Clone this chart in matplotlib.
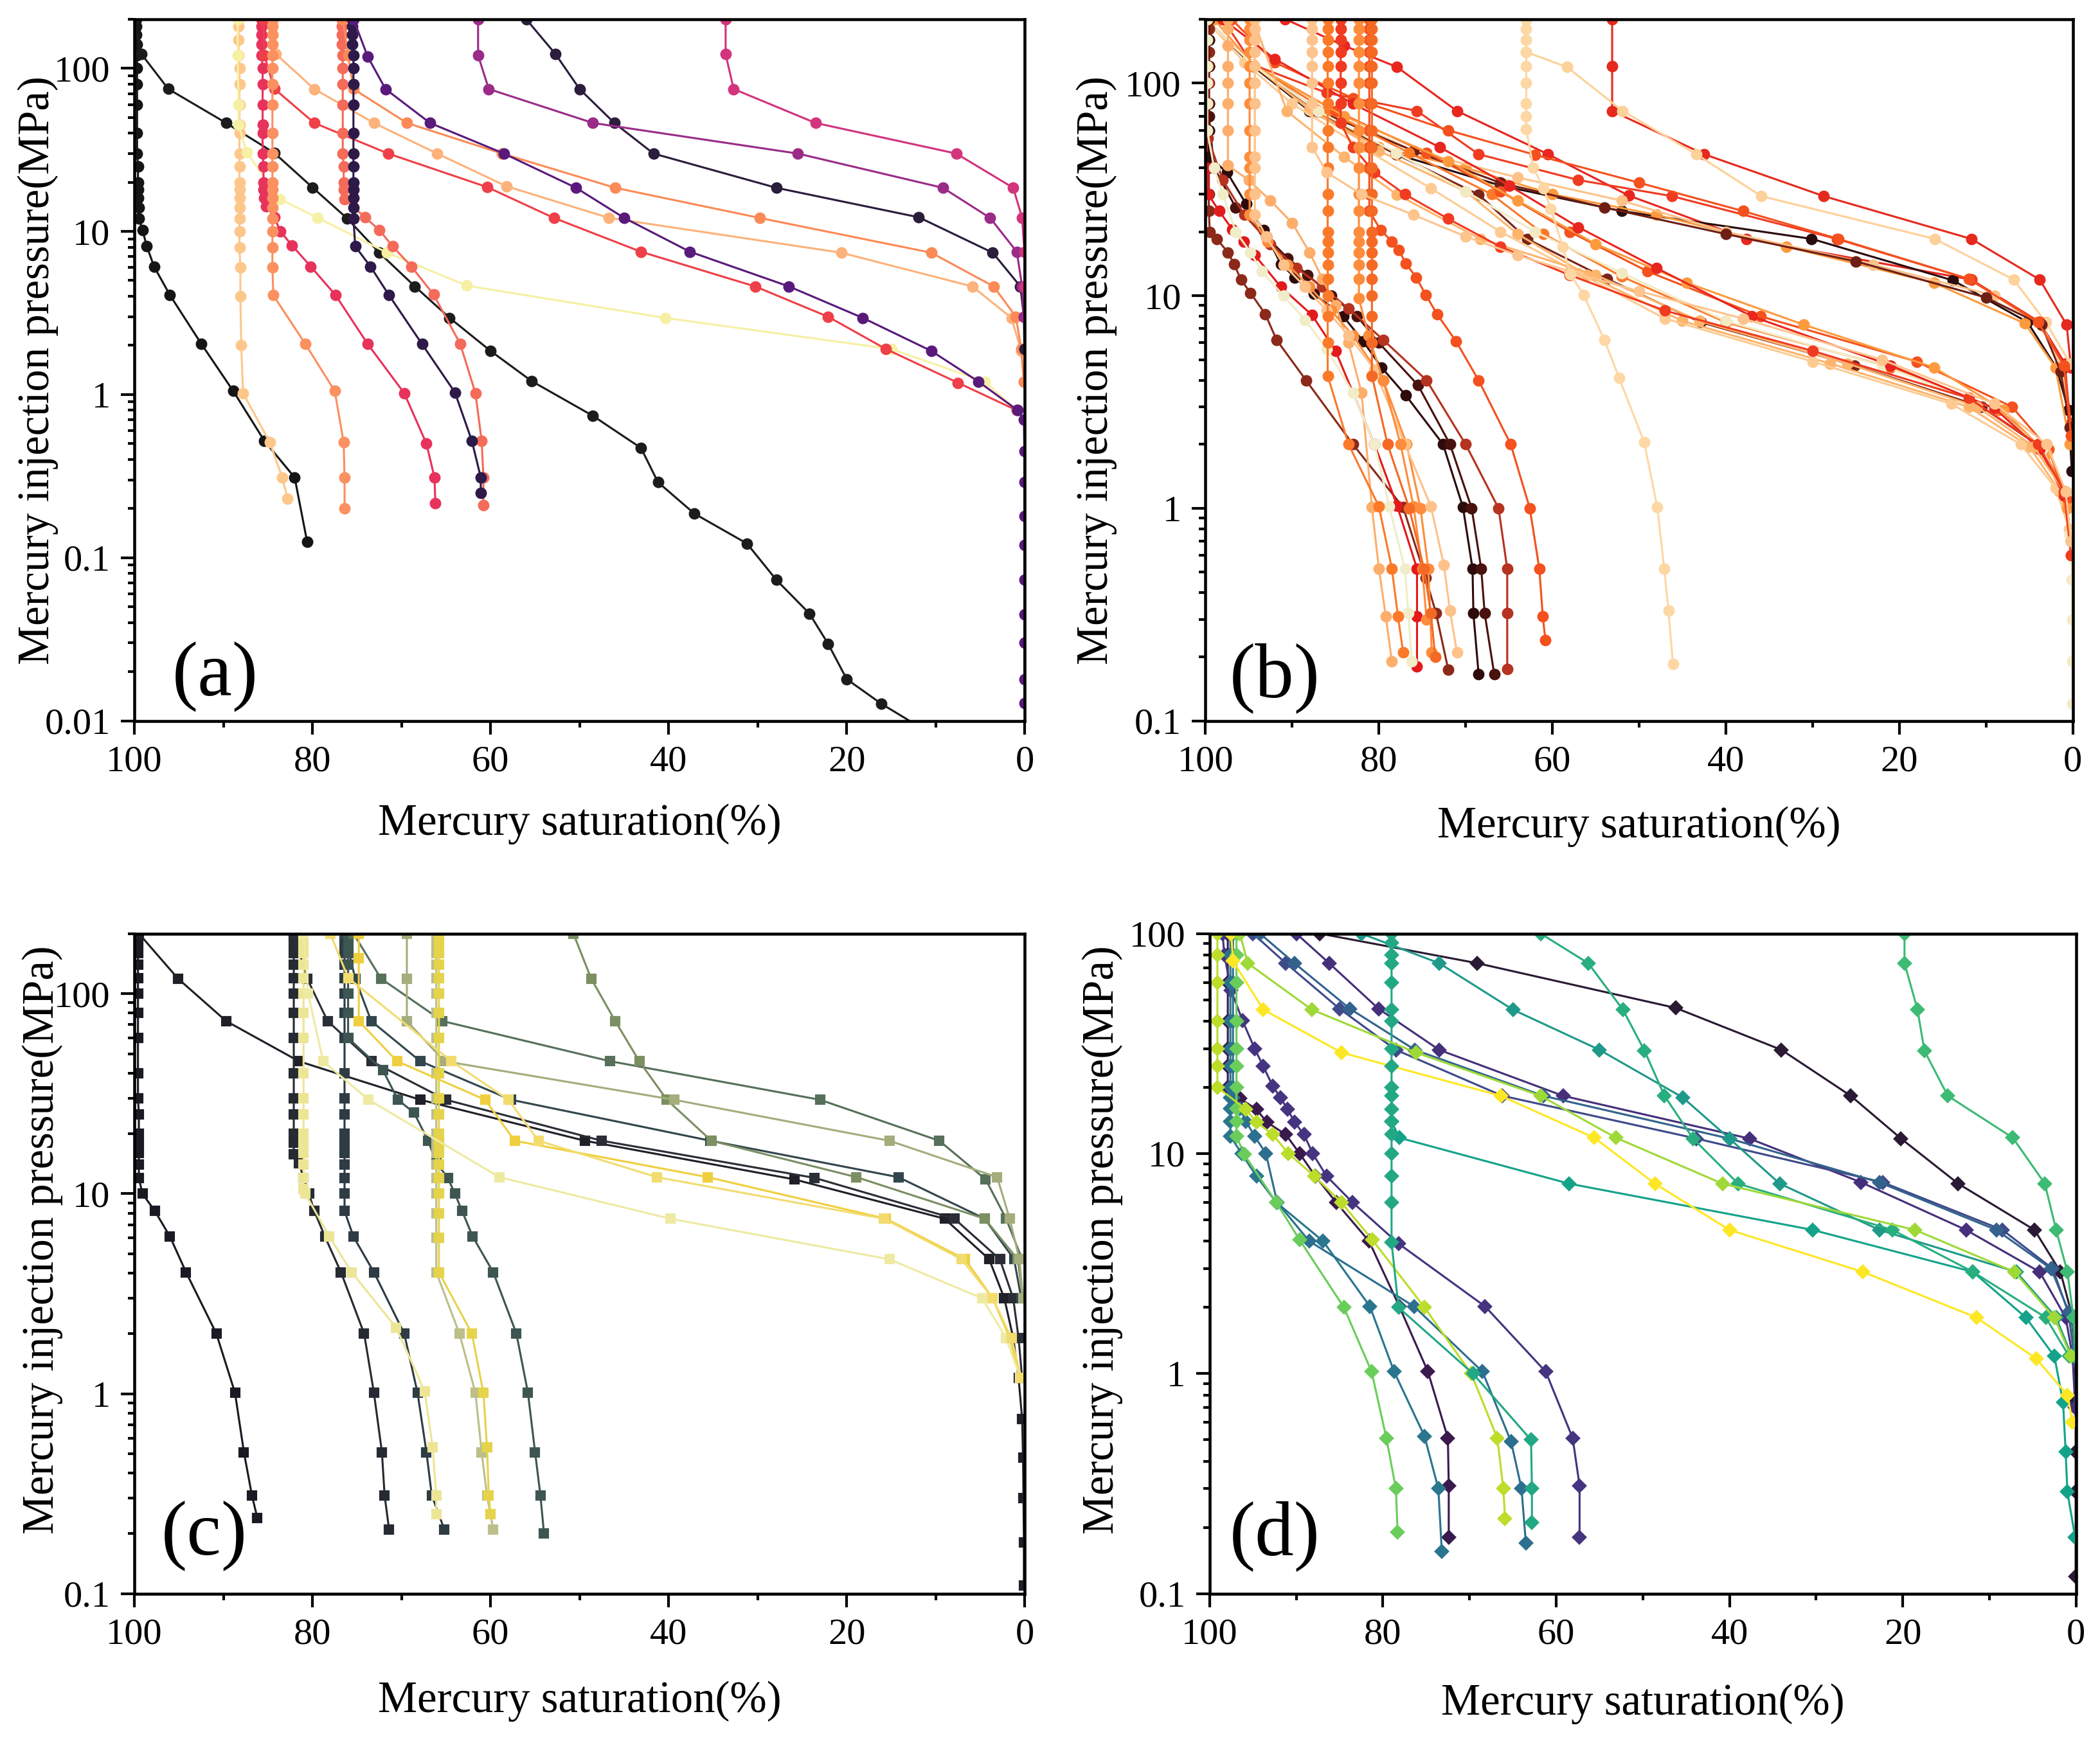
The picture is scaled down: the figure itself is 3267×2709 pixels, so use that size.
import matplotlib.pyplot as plt
from matplotlib.ticker import FixedLocator, LogLocator, FuncFormatter, NullFormatter, MultipleLocator

# ---------------- panel (a) : circles, magma-like colours ----------------
a_colors = ['#151515', '#1c1c1c', '#fdc78b', '#f6f0a4', '#e7335c', '#ee4048',
            '#fdb27b', '#fb9060', '#f46b5a', '#fc8a57', '#2d1a49', '#5a1a7c',
            '#2b1d3c', '#9a2c88', '#d2347d']
a_sat = [
    [99.8, 99.8, 99.8, 99.7, 99.7, 99.7, 99.7, 99.7, 99.7, 99.7, 99.6, 99.6, 99.6, 99.6, 99.5, 99.5,
     99.1, 98.6, 97.8, 96.0, 92.5, 88.9, 85.4, 82.0, 80.6],
    [100, 99.2, 96.2, 89.7, 84.3, 80.0, 76.1, 72.5, 68.5, 64.6, 60.0, 55.4, 48.5, 43.1, 41.2, 37.1,
     31.2, 27.9, 24.2, 22.1, 20.0, 16.1, 12.0],
    [88.3, 88.3, 88.3, 88.3, 88.2, 88.2, 88.2, 88.2, 88.2, 88.2, 88.2, 88.2, 88.2, 88.2, 88.2, 88.2,
     88.2, 88.2, 88.1, 88.1, 88.0, 87.8, 84.8, 83.4, 82.8],
    [88.4, 88.4, 88.3, 88.3, 87.4, 83.7, 79.4, 71.6, 62.7, 40.4, 15.0, 4.5, 0.9],
    [85.7, 85.7, 85.7, 85.7, 85.7, 85.6, 85.6, 85.6, 85.6, 85.6, 85.6, 85.5, 85.5, 85.5, 85.4, 85.2,
     84.3, 83.6, 82.3, 80.2, 77.4, 73.8, 69.7, 67.2, 66.3, 66.2],
    [85.5, 85.4, 84.3, 79.8, 71.5, 60.4, 52.9, 43.1, 30.3, 22.1, 15.6, 7.5, 0.9],
    [84.4, 84.1, 79.8, 73.1, 66.0, 58.2, 46.7, 20.6, 5.9, 1.5, 0.4, 0.1],
    [84.5, 84.5, 84.5, 84.5, 84.5, 84.5, 84.5, 84.5, 84.5, 84.5, 84.5, 84.5, 84.5, 84.5, 84.5, 84.5,
     84.5, 84.5, 84.5, 84.4, 80.8, 77.5, 76.5, 76.4, 76.4],
    [76.7, 76.7, 76.7, 76.7, 76.6, 76.6, 76.6, 76.6, 76.6, 76.6, 76.5, 76.5, 76.5, 76.4, 74.1, 72.5,
     71.0, 68.9, 66.4, 63.4, 61.7, 61.0, 60.8, 60.8],
    [76.6, 76.0, 75.4, 69.4, 58.7, 46.0, 29.8, 10.5, 3.5, 1.0, 0.4, 0.1],
    [75.5, 75.5, 75.5, 75.5, 75.4, 75.4, 75.4, 75.4, 75.4, 75.4, 75.4, 75.4, 75.4, 75.4, 75.4, 75.4,
     75.2, 73.5, 71.4, 67.7, 64.0, 62.1, 61.1, 61.1],
    [75.4, 73.8, 71.8, 66.8, 58.5, 50.4, 45.0, 37.6, 26.5, 18.2, 10.5, 5.2, 0.8, 0.1, 0.05, 0.05,
     0.05, 0.05, 0.05, 0.05, 0.05, 0.05, 0.05],
    [56.0, 52.7, 50.0, 46.1, 41.7, 27.9, 11.9, 3.6, 0.5, 0.1, 0.05],
    [61.4, 61.4, 60.2, 48.5, 25.5, 9.2, 3.9, 0.9, 0.3, 0.1],
    [33.6, 33.6, 32.7, 23.5, 7.7, 1.3, 0.3, 0.05, 0.05],
]
a_p = [
    [200, 180, 160, 140, 120, 100, 80, 60, 40, 30, 25, 20, 18, 16, 14, 12,
     10.2, 8.1, 6.1, 4.06, 2.05, 1.05, 0.52, 0.31, 0.125],
    [200, 122, 74.7, 46.2, 30.3, 18.6, 12.0, 7.4, 4.6, 2.95, 1.85, 1.21, 0.74, 0.47, 0.29, 0.186,
     0.122, 0.073, 0.0455, 0.0297, 0.018, 0.0127, 0.0093],
    [200, 180, 150, 120, 100, 80, 60, 45, 40, 30, 25, 20, 18, 16, 14, 12,
     10, 8, 6, 4, 2, 1.02, 0.51, 0.31, 0.23],
    [200, 120, 60, 45, 30.6, 15.8, 12.1, 7.4, 4.65, 2.95, 1.9, 1.2, 0.8],
    [200, 180, 160, 140, 120, 100, 80, 60, 45, 40, 30, 25, 20, 18, 16, 14.3,
     12.2, 10, 8.2, 6.1, 4.06, 2.04, 1.02, 0.50, 0.31, 0.215],
    [200, 120, 75, 46.2, 30, 18.7, 12.1, 7.5, 4.6, 3.0, 1.9, 1.18, 0.8],
    [200, 122, 74.6, 46.2, 30, 18.9, 12.1, 7.4, 4.6, 2.95, 1.85, 1.2],
    [200, 180, 160, 140, 120, 100, 80, 60, 40, 30, 25, 20, 18, 16, 14, 12,
     10, 8, 6, 4.06, 2.04, 1.05, 0.51, 0.31, 0.2],
    [200, 180, 160, 140, 120, 100, 80, 60, 40, 30, 25, 20, 18, 15.8, 12.2, 10.2,
     8.1, 6.1, 4.1, 2.04, 1.02, 0.52, 0.31, 0.21],
    [200, 120, 74.7, 46.2, 30, 18.5, 12.1, 7.4, 4.6, 3.0, 1.9, 1.2],
    [200, 180, 160, 140, 120, 100, 80, 60, 40, 30, 25, 20, 18, 16, 14, 12,
     8.1, 6.1, 4.06, 2.04, 1.03, 0.52, 0.31, 0.25],
    [200, 118, 74.6, 46.2, 30, 18.5, 12.1, 7.5, 4.6, 2.95, 1.85, 1.2, 0.8, 0.7, 0.45, 0.29,
     0.18, 0.12, 0.073, 0.045, 0.03, 0.018, 0.0128],
    [200, 122, 74.6, 46.2, 30, 18.5, 12.2, 7.4, 4.6, 3.0, 1.9],
    [200, 120, 74.6, 46.2, 30, 18.5, 12.1, 7.5, 4.6, 3.0],
    [200, 122, 74.6, 46.2, 30, 18.5, 12.1, 7.5, 4.6],
]

# ---------------- panel (b) : circles, yellow-orange-red colours ----------------
b_colors = ['#e8261e', '#e52a1d', '#fdd19a', '#2b0c0c', '#ef3b22', '#fd9a3e', '#fdc28a', '#6e1f14',
            '#f4511e', '#7a2416', '#fb7a2a', '#f4511e', '#fdb46c', '#fdcb92', '#fd9a3e', '#f3eac4',
            '#e8261e', '#fdb46c', '#8b2a1a', '#e31a1c', '#2e0b0b', '#4a120e', '#b5331f', '#f4511e',
            '#fdae6b', '#fd8d3c', '#fdc28a', '#f1edc8', '#fb7a2a', '#f03b20', '#fd8d3c', '#f46a25',
            '#fdc48e', '#fdd7a4']
b_sat = [
    [90.8, 84.0, 77.9, 71.0, 60.5, 51.2, 37.6, 11.7, 3.8, 0.9, 0.1],
    [53.1, 53.1, 53.1, 42.5, 28.7, 11.7, 3.8, 0.7, 0.2],
    [63.0, 63.0, 58.3, 51.9, 43.4, 35.9, 15.9, 6.8, 3.1, 0.3],
    [100, 94.5, 88.0, 78.0, 66.0, 52.0, 30.1, 13.8, 5.2, 1.9, 0.5, 0.1],
    [98.0, 94.5, 86.0, 75.6, 68.5, 57.0, 46.2, 27.2, 11.7, 3.8, 1.0, 0.2],
    [100, 94.5, 87.7, 80.0, 70.0, 60.0, 48.0, 33.0, 16.0, 5.5, 2.0, 0.3],
    [100, 94.5, 86.0, 76.0, 64.0, 52.0, 40.0, 23.0, 9.0, 3.5, 1.2, 0.2],
    [100, 94.5, 87.0, 76.0, 66.0, 54.0, 40.0, 25.0, 10.0, 3.6, 1.4, 0.3],
    [97.0, 92.0, 83.0, 72.0, 62.0, 50.0, 38.0, 27.0, 12.0, 4.0, 1.0, 0.2],
    [100, 94.5, 87.1, 78.0, 68.5, 62.9, 53.7, 42.9, 25.2, 10.5, 4.0, 0.9, 0.2],
    [100, 94.5, 86.0, 76.5, 67.0, 61.0, 52.0, 40.0, 21.0, 8.5, 3.5, 0.8, 0.2],
    [100, 94.5, 85.0, 74.5, 66.0, 58.0, 49.0, 36.0, 18.0, 7.0, 2.8, 0.7],
    [100, 94.5, 88.0, 80.0, 70.0, 64.0, 56.0, 45.0, 28.0, 12.0, 5.0, 1.5, 0.3],
    [100, 95.5, 90.0, 82.0, 74.0, 66.0, 57.0, 47.0, 30.0, 14.0, 6.0, 2.0, 0.4],
    [99.0, 94.5, 84.0, 72.0, 64.0, 55.0, 44.5, 31.0, 16.0, 8.0, 3.0, 0.6],
    [100, 94.5, 87.0, 78.0, 70.0, 62.0, 52.0, 40.0, 22.0, 9.0, 3.5, 1.0, 0.3, 0.1, 0.05, 0.05, 0.05],
    [98.0, 92.0, 83.0, 73.0, 65.0, 57.0, 48.0, 37.0, 21.0, 9.0, 3.8, 1.0],
    [94.5, 90.6, 84.0, 77.9, 68.3, 55.0, 43.0, 26.0, 11.0, 4.5, 1.0, 0.2],
    [99.6, 99.6, 99.6, 99.6, 99.6, 99.6, 99.6, 99.6, 99.6, 99.6, 99.6, 99.5, 98.7, 97.4, 96.7, 95.9,
     94.8, 93.1, 91.8, 88.4, 83.0, 77.2, 74.6, 73.4, 72.0],
    [99.7, 99.7, 99.7, 99.7, 99.7, 99.7, 99.7, 99.7, 98.4, 96.9, 95.6, 94.3, 91.3, 87.7, 85.0, 80.5,
     77.9, 75.6, 75.6, 75.6],
    [99.6, 99.6, 99.6, 99.6, 99.6, 99.6, 97.5, 95.3, 93.3, 91.3, 89.7, 87.5, 84.1, 81.8, 79.7, 76.9,
     72.6, 70.3, 69.2, 69.1, 68.5],
    [99.6, 99.6, 99.6, 99.0, 96.5, 93.0, 90.5, 88.2, 85.5, 82.5, 80.0, 75.5, 71.8, 69.3, 68.2, 67.8, 66.7],
    [99.7, 99.7, 99.7, 99.7, 98.0, 95.5, 92.5, 89.5, 86.5, 83.5, 79.5, 74.5, 70.0, 66.2, 65.2, 65.2, 65.2],
    [81.1, 81.1, 81.1, 81.1, 81.1, 81.1, 81.1, 81.1, 81.1, 81.1, 81.1, 81.1, 79.8, 78.5, 77.7, 76.9,
     75.7, 74.6, 73.3, 71.1, 68.5, 64.8, 62.6, 61.5, 61.1, 60.8],
    [97.4, 97.4, 97.4, 97.4, 97.4, 97.4, 97.4, 97.4, 95.0, 92.5, 90.0, 88.0, 86.5, 85.0, 83.5, 82.0,
     80.8, 80.0, 79.2, 78.5],
    [94.9, 94.9, 94.9, 94.9, 94.9, 94.9, 94.9, 94.9, 94.9, 94.9, 94.9, 94.9, 92.8, 90.5, 88.0, 85.5,
     83.0, 79.5, 76.8, 75.2, 74.3, 73.9],
    [94.3, 94.3, 94.3, 94.3, 94.3, 94.3, 94.3, 94.3, 94.3, 94.3, 94.3, 94.3, 93.0, 91.0, 88.5, 86.0,
     83.5, 80.5, 77.0, 74.0, 72.5, 71.8, 71.0],
    [99.8, 99.8, 99.8, 99.8, 99.8, 99.8, 99.0, 98.0, 96.5, 94.8, 93.5, 91.0, 88.5, 86.0, 83.0, 80.5,
     78.8, 77.0, 76.6, 76.2],
    [85.9, 85.9, 85.9, 85.9, 85.9, 85.9, 85.9, 85.9, 85.9, 85.9, 85.9, 85.9, 85.9, 85.9, 85.9, 85.9,
     85.9, 85.9, 85.9, 85.9, 85.9, 83.5, 80.0, 78.5, 77.8, 77.2],
    [84.4, 84.4, 84.4, 84.4, 84.4, 84.4, 84.4, 84.4, 83.0, 80.5, 77.0, 72.0, 66.0, 58.0, 47.0, 30.0,
     12.0, 4.0, 1.0, 0.2],
    [82.3, 82.3, 82.3, 82.3, 82.3, 82.3, 82.3, 82.3, 82.3, 82.3, 82.3, 82.3, 82.3, 82.3, 82.3, 82.3,
     82.3, 82.3, 81.2, 79.5, 77.5, 76.0, 75.0, 74.5],
    [80.8, 80.8, 80.8, 80.8, 80.8, 80.8, 80.8, 80.8, 80.8, 80.8, 80.8, 80.8, 80.8, 80.8, 80.8, 80.8,
     80.8, 80.8, 80.8, 80.8, 80.8, 79.0, 76.5, 74.8, 74.0, 73.5],
    [87.7, 87.7, 87.7, 87.7, 87.7, 87.7, 87.7, 87.7, 86.0, 82.0, 76.0, 70.0, 64.0, 58.0, 50.0, 38.0,
     22.0, 9.0, 3.0, 0.8, 0.2],
    [63.0, 63.0, 63.0, 63.0, 63.0, 63.0, 63.0, 63.0, 63.0, 62.2, 61.0, 60.2, 58.8, 57.9, 56.4, 54.0,
     52.3, 49.4, 47.9, 47.1, 46.6, 46.1],
]
b_p = [
    [200, 150, 119, 74, 46.3, 29.6, 18.5, 11.9, 7.5, 4.8, 2.0],
    [200, 120, 74, 46.3, 29.4, 18.5, 11.9, 7.3, 4.6],
    [200, 140, 119, 74, 46.3, 29.4, 18.5, 11.9, 7.5, 4.8],
    [200, 120, 74, 46.3, 33, 25, 18.5, 11.8, 7.5, 4.6, 2.9, 1.5],
    [200, 122, 90, 74, 46.3, 35, 29.4, 18.5, 11.9, 7.5, 4.6, 2.5],
    [200, 122, 74, 50, 40, 30, 24, 17, 11.5, 7.4, 4.6, 2.0],
    [200, 122, 74, 48, 36, 28, 20, 14, 10, 7.2, 4.6, 2.2],
    [200, 122, 74, 48, 34, 26, 19.5, 14.5, 9.8, 7.3, 4.4, 2.4],
    [200, 125, 85, 60, 46, 34, 25, 18.5, 12, 7.5, 4.7, 2.2],
    [200, 122, 73.8, 46.3, 29.9, 18.5, 12.0, 7.5, 4.7, 3.0, 1.98, 1.2, 0.7],
    [200, 122, 74, 47, 30, 19.5, 12.3, 7.5, 4.6, 2.9, 1.9, 1.2, 0.6],
    [200, 122, 74, 47, 31, 20, 13, 8, 4.9, 3.0, 1.9, 1.1],
    [200, 122, 75, 48, 31, 19.5, 12.5, 7.6, 4.8, 3.0, 1.95, 1.2, 0.75],
    [200, 125, 80, 50, 32, 20, 12.8, 7.8, 4.9, 3.1, 2.0, 1.25, 0.8],
    [200, 122, 70, 43, 28, 17.5, 11.5, 7.3, 4.6, 2.9, 1.8, 1.0],
    [200, 122, 74, 47, 31, 20, 12.8, 7.6, 4.7, 2.95, 1.9, 1.15, 0.75, 0.46, 0.3, 0.19, 0.12],
    [200, 130, 80, 50, 33, 21, 13.5, 8, 4.7, 2.95, 1.9, 1.15],
    [200, 73.8, 45, 29.9, 18.5, 12.5, 7.6, 4.8, 3.0, 1.95, 1.2, 0.7],
    [200, 180, 160, 140, 120, 100, 80, 60, 40, 30, 25, 20, 18.5, 16, 14.1, 11.9,
     10.3, 8.2, 6.2, 4.0, 2.0, 1.01, 0.47, 0.32, 0.174],
    [200, 160, 120, 100, 80, 60, 40, 30, 25, 20.5, 18, 15.5, 11, 8.1, 5.5, 2.0,
     1.03, 0.52, 0.31, 0.18],
    [200, 160, 120, 80, 60, 45, 38, 27, 20.4, 14.1, 12.2, 10.2, 8.0, 6.1, 4.6, 3.4,
     2.0, 1.01, 0.52, 0.32, 0.166],
    [200, 120, 70, 40, 26, 19, 15, 12.5, 10.0, 8.0, 6.0, 3.8, 2.0, 1.0, 0.52, 0.32, 0.166],
    [200, 120, 80, 55, 35, 24, 17.5, 13.5, 11, 8.7, 6.2, 4.0, 2.0, 1.0, 0.52, 0.32, 0.175],
    [200, 180, 160, 140, 120, 100, 80, 60, 50, 40, 30, 25, 20.4, 18, 16.4, 14.2,
     12.2, 10.1, 8.2, 6.1, 4.0, 2.0, 1.0, 0.52, 0.31, 0.24],
    [200, 180, 150, 120, 100, 80, 60, 41, 35, 28, 22, 16, 12, 9, 6, 3.5,
     1.01, 0.52, 0.31, 0.19],
    [200, 180, 160, 140, 120, 100, 80, 60, 45, 40, 30, 24, 18, 14, 11, 8.5,
     6.5, 4.0, 2.0, 1.0, 0.52, 0.21],
    [200, 180, 160, 140, 120, 100, 80, 60, 45, 40, 30, 24, 19, 14, 11, 8.5,
     6.5, 4.5, 2.0, 1.02, 0.54, 0.33, 0.21],
    [200, 160, 120, 100, 80, 60, 40, 30, 20, 16, 13, 10, 7.7, 5.6, 3.5, 2.0,
     1.02, 0.52, 0.32, 0.19],
    [200, 180, 160, 140, 120, 100, 80, 60, 50, 40, 30, 25, 20, 18, 16, 14,
     12, 10, 8, 6, 4.2, 2.0, 1.02, 0.52, 0.31, 0.21],
    [200, 180, 160, 140, 120, 100, 80, 65, 50, 38, 30, 23, 17, 12.5, 8.5, 5.5,
     3.3, 2.0, 1.2, 0.6],
    [200, 180, 160, 140, 120, 100, 80, 60, 50, 40, 30, 25, 20, 18, 16, 14,
     12, 9.7, 6.5, 4.0, 2.0, 1.02, 0.52, 0.3],
    [200, 180, 160, 140, 120, 100, 80, 60, 50, 40, 30, 25, 20, 18, 16, 14,
     12, 10, 8, 6, 4.2, 2.0, 1.0, 0.52, 0.32, 0.2],
    [200, 180, 160, 140, 120, 100, 80, 50, 38, 30, 24, 19, 15.5, 13, 10.5, 7.8,
     5.0, 3.1, 2.0, 1.2, 0.7],
    [200, 180, 160, 140, 120, 100, 80, 70, 60.8, 40, 32, 25.7, 17, 12.6, 10.1, 6.2,
     4.1, 2.04, 1.01, 0.52, 0.33, 0.185],
]

# ---------------- panel (c) : squares, dark slate to yellow ----------------
c_colors = ['#1a1a24', '#202028', '#262a32', '#2a2e36', '#2e3c44', '#33464e', '#3e5652', '#56705a',
            '#7b8f62', '#a4ad7c', '#bcbf8a', '#e5d34c', '#ece596', '#efcf3f', '#eeeaa2', '#f2dc70']
c_sat = [
    [99.6, 99.6, 99.6, 99.6, 99.6, 99.6, 99.6, 99.6, 99.6, 99.6, 99.5, 99.5, 99.5, 99.5, 99.5, 99.5,
     99.1, 97.7, 96.0, 94.2, 90.8, 88.7, 87.7, 86.8, 86.2],
    [99.5, 95.1, 89.7, 81.5, 67.9, 49.4, 25.9, 9.0, 4.0, 2.3, 1.3, 0.7, 0.3, 0.2, 0.15, 0.1, 0.1],
    [82.1, 82.1, 82.1, 82.1, 82.1, 82.1, 82.1, 82.1, 82.1, 82.1, 82.1, 82.1, 82.1, 82.1, 81.5, 81.0,
     80.4, 79.8, 78.6, 76.8, 74.2, 73.1, 72.2, 71.9, 71.4],
    [82.1, 80.6, 78.3, 73.4, 65.0, 47.5, 23.6, 7.9, 2.8, 1.3, 0.7, 0.3],
    [76.4, 76.4, 76.4, 76.4, 76.4, 76.4, 76.4, 76.4, 76.4, 76.4, 76.4, 76.4, 76.4, 76.4, 76.4, 76.4,
     76.4, 76.4, 75.4, 73.1, 69.7, 68.2, 67.2, 66.6, 65.2],
    [76.4, 75.2, 73.4, 67.9, 57.7, 35.3, 14.2, 4.5, 1.2, 0.4],
    [76.0, 76.0, 76.0, 76.0, 76.0, 76.0, 76.0, 76.0, 72.1, 70.4, 68.6, 67.0, 66.1, 64.8, 64.0, 63.2,
     62.0, 59.7, 57.1, 55.8, 55.0, 54.4, 54.0],
    [75.4, 72.3, 65.4, 46.6, 23.0, 9.6, 4.4, 2.1, 0.3],
    [50.7, 48.7, 46.0, 43.3, 40.2, 35.2, 18.9, 4.5, 0.8, 0.2],
    [69.4, 69.4, 69.4, 65.2, 39.4, 15.2, 3.1, 1.7, 0.6, 0.2],
    [66.1, 66.1, 66.1, 66.1, 66.1, 66.1, 66.1, 66.1, 66.1, 66.1, 66.1, 66.1, 66.1, 66.1, 66.1, 66.1,
     66.1, 66.1, 66.1, 66.1, 63.5, 61.7, 61.0, 60.4, 59.7],
    [65.8, 65.8, 65.8, 65.8, 65.8, 65.8, 65.8, 65.8, 65.8, 65.8, 65.8, 65.8, 65.8, 65.8, 65.8, 65.8,
     65.8, 65.8, 65.8, 65.8, 62.1, 60.8, 60.4, 60.2, 60.0],
    [81.0, 81.0, 81.0, 81.0, 81.0, 81.0, 81.0, 81.0, 81.0, 81.0, 81.0, 81.0, 81.0, 81.0, 81.0, 81.0,
     81.0, 80.8, 78.1, 75.6, 70.6, 67.4, 66.5, 66.1, 66.1],
    [74.8, 74.8, 74.8, 70.5, 60.6, 57.3, 35.6, 15.6, 6.7, 3.6, 1.7, 0.5],
    [81.0, 80.5, 78.8, 73.7, 59.0, 39.8, 15.2, 4.8, 2.1, 0.5],
    [78.0, 76.0, 64.4, 58.0, 54.6, 41.3, 15.8, 7.1, 3.6, 1.5, 0.4],
]
c_p = [
    [200, 180, 160, 140, 120, 100, 80, 60, 40, 30, 25, 20, 18, 16, 14, 12,
     10, 8.2, 6.1, 4.05, 2.0, 1.01, 0.51, 0.31, 0.24],
    [200, 119, 73, 45.9, 29.5, 18.4, 11.8, 7.5, 4.7, 3.0, 1.9, 1.2, 0.75, 0.48, 0.3, 0.18, 0.11],
    [200, 180, 160, 140, 120, 100, 80, 60, 40, 30, 25, 20, 18, 15.8, 14.2, 12.0,
     10, 8.2, 6.1, 4.05, 2.0, 1.01, 0.51, 0.31, 0.21],
    [200, 119, 73, 46, 29.5, 18.4, 12.0, 7.5, 4.7, 3.0, 1.9, 1.2],
    [200, 180, 160, 140, 120, 100, 80, 60, 40, 30, 25, 20, 18, 16, 14, 12,
     10, 8.2, 6.1, 4.05, 2.0, 1.01, 0.51, 0.31, 0.21],
    [200, 119, 73, 46, 29.5, 18.4, 12.1, 7.5, 4.7, 3.0],
    [200, 180, 160, 140, 120, 100, 80, 60, 41.5, 29.5, 25.4, 18.4, 14.3, 12.0, 10, 8.2,
     6.1, 4.05, 2.0, 1.01, 0.51, 0.31, 0.2],
    [200, 119, 73, 46, 29.5, 18.4, 11.8, 7.5, 4.7],
    [200, 119, 73, 46, 29.5, 18.4, 12.1, 7.5, 4.7, 3.0],
    [200, 119, 73, 46, 29.5, 18.4, 12.1, 7.5, 4.7, 3.0],
    [200, 180, 160, 140, 120, 100, 80, 60, 40, 30, 25, 20, 18, 16, 14, 12,
     10, 8, 6, 4.05, 2.0, 1.01, 0.51, 0.31, 0.21],
    [200, 180, 160, 140, 120, 100, 80, 60, 40, 30, 25, 20, 18, 16, 14, 12,
     10, 8, 6, 4.05, 2.0, 1.01, 0.54, 0.31, 0.25],
    [200, 180, 160, 140, 120, 100, 80, 60, 40, 30, 25, 20, 18, 16, 14, 12,
     10.6, 10, 6.1, 4.05, 2.14, 1.03, 0.54, 0.31, 0.25],
    [200, 150, 73, 46, 29.5, 18.4, 12.1, 7.5, 4.7, 3.0, 1.9, 1.2],
    [200, 100, 46, 29.5, 12.1, 7.5, 4.7, 3.0, 1.9, 1.2],
    [200, 120, 46, 29.5, 18.4, 12.1, 7.5, 4.7, 3.0, 1.9, 1.2],
]

# ---------------- panel (d) : diamonds, viridis-like colours ----------------
d_colors = ['#2a1a33', '#3a1a4d', '#46307a', '#3f4a8a', '#33638d', '#45347f', '#2a768e', '#2c6f8e',
            '#14a38a', '#1f9a8a', '#6acd5b', '#bcdd2a', '#fde725', '#22a884', '#29af7f', '#3dbb74',
            '#9fd938']
d_sat = [
    [87.3, 69.1, 46.2, 34.0, 26.0, 20.2, 13.6, 4.8, 1.8, 0.4, 0.1, 0.05, 0.05, 0.05, 0.05, 0.05],
    [97.9, 97.9, 97.9, 97.9, 97.9, 97.9, 97.9, 96.5, 94.6, 93.4, 91.2, 89.6, 87.8, 85.4, 81.6, 78.1,
     74.8, 72.5, 72.4, 72.4],
    [90.0, 86.2, 80.5, 73.5, 59.2, 37.7, 24.8, 12.7, 4.2, 1.2, 0.4, 0.1],
    [95.0, 91.2, 85.0, 78.5, 66.2, 43.8, 22.3, 8.5, 2.7, 0.9, 0.2],
    [94.2, 90.2, 83.8, 76.3, 61.5, 40.0, 22.7, 9.2, 2.9, 0.8, 0.2],
    [98.5, 98.3, 97.5, 96.2, 94.8, 93.8, 92.7, 91.8, 91.0, 90.2, 89.1, 88.1, 86.5, 83.5, 78.2, 68.2,
     61.2, 58.1, 57.3, 57.3],
    [97.6, 97.6, 97.6, 97.6, 97.6, 97.6, 97.6, 97.6, 97.6, 97.6, 97.6, 96.3, 94.6, 92.3, 86.9, 81.5,
     78.7, 75.2, 73.6, 73.2],
    [97.3, 97.3, 97.3, 97.3, 97.3, 97.3, 97.3, 97.3, 96.5, 95.8, 94.8, 93.5, 92.2, 88.5, 76.4, 68.5,
     65.2, 64.0, 63.5],
    [79.0, 78.1, 58.5, 30.4, 11.9, 5.8, 2.5, 1.5, 1.2, 1.0, 0.1],
    [82.5, 73.5, 65.0, 55.0, 45.4, 40.0, 34.2, 22.7, 6.9, 2.3, 0.5],
    [96.9, 96.9, 96.9, 96.9, 96.9, 96.9, 96.9, 96.9, 96.9, 96.9, 96.0, 92.3, 89.6, 84.5, 81.3, 79.6,
     78.5, 78.3],
    [99.1, 99.1, 99.1, 99.1, 99.1, 99.1, 99.1, 95.8, 94.6, 92.7, 90.9, 87.9, 84.8, 81.2, 75.2, 69.8,
     66.8, 66.1, 65.9],
    [97.5, 97.3, 93.8, 84.8, 66.4, 55.6, 48.6, 40.0, 24.6, 11.5, 4.6, 1.0, 0.4],
    [79.0, 79.0, 79.0, 79.0, 79.0, 79.0, 79.0, 79.0, 79.0, 79.0, 79.0, 79.0, 79.0, 79.0, 79.0, 79.0,
     79.0, 79.0, 78.2, 69.6, 62.9, 62.8, 62.8],
    [61.8, 56.3, 52.3, 49.8, 47.5, 44.2, 39.0, 21.2, 11.9, 3.5, 0.8],
    [19.8, 19.8, 18.3, 17.5, 14.8, 7.3, 3.6, 2.3, 1.0, 0.3, 0.1],
    [96.5, 95.6, 88.2, 76.2, 61.8, 53.1, 40.8, 18.6, 7.1, 2.5, 0.6],
]
d_p = [
    [100, 73.3, 45.9, 29.6, 18.3, 11.7, 7.3, 4.5, 2.9, 1.8, 1.2, 0.74, 0.44, 0.29, 0.18, 0.12],
    [100, 80, 60, 40, 30, 25, 20, 17.8, 15.9, 13.9, 12.2, 10.0, 7.9, 6.0, 4.0, 2.02,
     1.02, 0.51, 0.31, 0.18],
    [100, 73.3, 45.5, 29.6, 18.3, 11.7, 7.4, 4.5, 2.9, 1.8, 1.2, 0.7],
    [100, 73.3, 45.5, 29.6, 18.3, 11.7, 7.4, 4.5, 3.0, 1.9, 1.2],
    [100, 73.3, 45.5, 29.6, 18.3, 11.7, 7.4, 4.5, 3.0, 1.9, 1.2],
    [100, 80, 55, 40.2, 30, 24.9, 20.2, 17.9, 15.9, 13.9, 12.2, 10, 7.9, 6.0, 3.9, 2.02,
     1.02, 0.51, 0.31, 0.18],
    [100, 80, 60, 40, 30, 25, 20, 18, 16, 14, 12, 10, 7.9, 6.0, 4.0, 2.02,
     1.02, 0.52, 0.30, 0.156],
    [100, 80, 60, 40, 30, 25, 20, 18, 16, 14, 12, 10, 6.0, 4.0, 2.02, 1.02,
     0.49, 0.30, 0.17],
    [14, 11.8, 7.3, 4.5, 2.9, 1.8, 1.2, 0.74, 0.44, 0.29, 0.18],
    [100, 73.3, 45.1, 29.6, 18.0, 11.7, 7.3, 4.5, 2.9, 1.8, 1.2],
    [100, 80, 60, 40, 30, 25, 20, 16, 14, 12, 9.9, 6.0, 4.05, 2.0, 1.02, 0.51,
     0.30, 0.19],
    [100, 80, 60, 40, 30, 25, 20, 15.9, 13.9, 12.2, 10, 7.9, 6.0, 4.05, 2.0, 1.0,
     0.51, 0.30, 0.22],
    [100, 75, 45.1, 28.8, 18.3, 11.8, 7.3, 4.5, 2.9, 1.8, 1.17, 0.8, 0.6],
    [100, 91, 80, 73, 60, 45, 40, 30, 25, 20, 18.3, 15.9, 14, 12.2, 10, 7.9,
     6.0, 3.96, 2.0, 1.0, 0.5, 0.3, 0.21],
    [100, 73.3, 45.1, 29.3, 18.3, 11.7, 7.3, 4.5, 2.9, 1.8, 1.2],
    [100, 73.3, 45.1, 29.3, 18.3, 11.8, 7.3, 4.5, 2.9, 1.8, 1.2],
    [100, 73.3, 45.1, 28.8, 18.3, 11.8, 7.3, 4.5, 2.9, 1.8, 1.2],
]

plt.rcParams['font.family'] = ['Liberation Serif', 'DejaVu Serif']
fig = plt.figure(figsize=(3267 / 300, 2709 / 300), dpi=300)


def panel(rect, sats, ps, colors, marker, ms, ylim, yticks, tag, tag_xy, ylab_xy, xlab_y):
    ax = fig.add_axes(rect)
    for s, p, c in zip(sats, ps, colors):
        ax.plot(s, p, color=c, lw=0.75, marker=marker, ms=ms, mec=c, mfc=c)
    ax.set_yscale('log')
    ax.set_xlim(100, 0)
    ax.set_ylim(*ylim)
    ax.yaxis.set_major_locator(FixedLocator(yticks))
    ax.yaxis.set_major_formatter(FuncFormatter(lambda v, pos: '%g' % v))
    ax.yaxis.set_minor_locator(LogLocator(base=10, subs=range(2, 10), numticks=30))
    ax.yaxis.set_minor_formatter(NullFormatter())
    ax.xaxis.set_major_locator(MultipleLocator(20))
    ax.xaxis.set_minor_locator(MultipleLocator(10))
    ax.tick_params(which='both', direction='out', top=False, right=False, width=1.0,
                   labelsize=14)
    ax.tick_params(which='major', length=5, pad=4)
    ax.tick_params(which='minor', length=2.5)
    for sp in ax.spines.values():
        sp.set_linewidth(1.1)
    ax.set_xlabel('Mercury saturation(%)', fontsize=16.5)
    ax.set_ylabel('Mercury injection pressure(MPa)', fontsize=16.5)
    ax.xaxis.set_label_coords(0.5, xlab_y)
    ax.yaxis.set_label_coords(*ylab_xy)
    ax.text(tag_xy[0], tag_xy[1], tag, transform=ax.transAxes, fontsize=29,
            ha='left', va='bottom')
    return ax


panel([0.064, 0.586, 0.424, 0.403], a_sat, a_p, a_colors, 'o', 3.3, (0.01, 200),
      [0.01, 0.1, 1, 10, 100], '(a)', (0.042, 0.012), (-0.085, 0.5), -0.118)
panel([0.574, 0.586, 0.413, 0.403], b_sat, b_p, b_colors, 'o', 3.3, (0.1, 200),
      [0.1, 1, 10, 100], '(b)', (0.028, 0.010), (-0.102, 0.5), -0.122)
panel([0.064, 0.0846, 0.424, 0.3792], c_sat, c_p, c_colors, 's', 2.8, (0.1, 200),
      [0.1, 1, 10, 100], '(c)', (0.030, 0.034), (-0.080, 0.536), -0.132)
panel([0.576, 0.0846, 0.4126, 0.3792], d_sat, d_p, d_colors, 'D', 3.0, (0.1, 100),
      [0.1, 1, 10, 100], '(d)', (0.023, 0.034), (-0.100, 0.536), -0.136)

fig.savefig('out.png', dpi=300)
